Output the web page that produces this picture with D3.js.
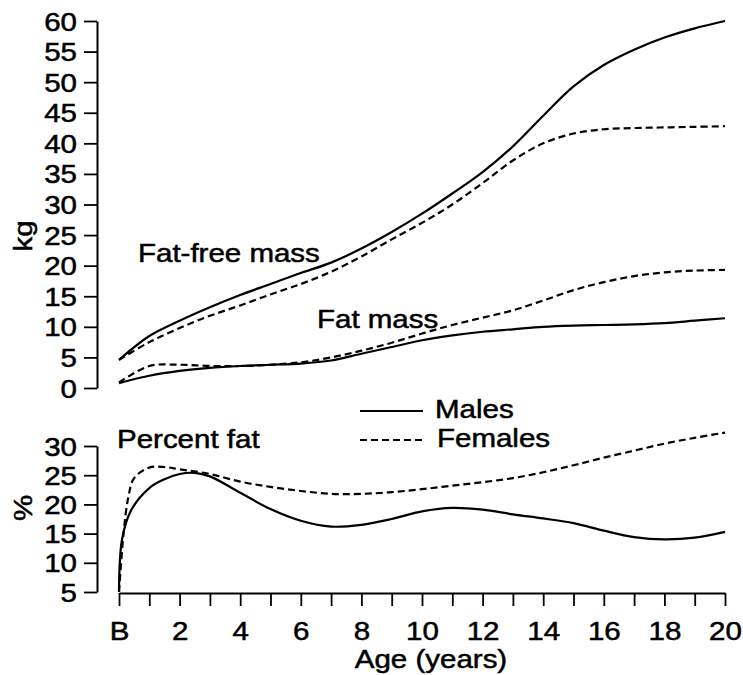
<!DOCTYPE html>
<html>
<head>
<meta charset="utf-8">
<script src="https://cdn.jsdelivr.net/npm/d3@7"></script>
<style>
  body { margin: 0; background: #fff; }
  svg { display: block; }
  text { font-family: "Liberation Sans", Arial, sans-serif; fill: #000; stroke: #000; stroke-width: 0.5px; }
</style>
</head>
<body>
<div id="chart"></div>
<script>
//ages for the mass panel (years, B = birth)
const ages = d3.range(0, 21);
//fat-free mass (kg)
const ffmMales   = [4.6, 8.5, 11, 13.2, 15.2, 17, 18.8, 20.5, 22.8, 25.5, 28.5, 31.8, 35.3, 39.5, 44.5, 49.3, 52.8, 55.3, 57.3, 58.8, 60];
const ffmFemales = [4.6, 7.5, 9.8, 11.8, 13.5, 15.3, 17, 19, 21.5, 24.3, 27, 30, 33.5, 37.2, 40, 41.6, 42.3, 42.5, 42.6, 42.7, 42.8];
//fat mass (kg)
const fmMales    = [0.8, 2, 2.8, 3.3, 3.6, 3.8, 4, 4.5, 5.6, 6.7, 7.8, 8.6, 9.2, 9.6, 10, 10.2, 10.3, 10.4, 10.6, 11, 11.4];
const fmFemales  = [0.9, 3.6, 3.8, 3.6, 3.6, 3.8, 4.2, 5, 6.1, 7.4, 8.9, 10.3, 11.5, 12.7, 14.3, 16, 17.3, 18.3, 18.9, 19.2, 19.3];
//percent fat (%), finer steps near birth
const pctAgesM   = [0, 0.1, 0.4, 1, 1.5, 2, 2.5, 3, 4, 5, 6, 7, 8, 9, 10, 11, 12, 13, 14, 15, 16, 17, 18, 19, 20];
const pctMales   = [5, 14, 19, 22.8, 24.3, 25.2, 25.4, 24.8, 22, 19.2, 17.2, 16.2, 16.5, 17.5, 18.8, 19.4, 19.1, 18.3, 17.6, 16.8, 15.5, 14.4, 14, 14.3, 15.3];
const pctAgesF   = [0, 0.15, 0.3, 0.5, 1, 1.5, 2, 3, 4, 5, 6, 7, 8, 9, 10, 11, 12, 13, 14, 15, 16, 17, 18, 19, 20];
const pctFemales = [5, 15, 21, 24.5, 26.3, 26.4, 26, 25.2, 23.9, 23, 22.3, 21.8, 21.8, 22.1, 22.6, 23.2, 23.8, 24.5, 25.5, 26.7, 28, 29.2, 30.4, 31.4, 32.3];
//tick values
const kgTicks  = d3.range(0, 61, 5);
const pctTicks = [5, 10, 15, 20, 25, 30];
const ageTicks = d3.range(0, 21, 1);

const W = 743, H = 675;
const SX = 1.18; //horizontal stretch of the scanned lettering

const svg = d3.select('#chart').append('svg')
  .attr('width', W).attr('height', H);

const x = d3.scaleLinear().domain([0, 20]).range([119, 725]);
const yKg = d3.scaleLinear().domain([0, 60]).range([388, 21]);
const yPct = d3.scaleLinear().domain([5, 30]).range([592, 446]);

//left axes
function leftAxis(scale, ticks) {
  const g = svg.append('g').attr('transform', 'translate(97,0)')
    .call(d3.axisLeft(scale).tickValues(ticks).tickSize(13).tickSizeOuter(0));
  g.select('.domain').attr('stroke', '#000').attr('stroke-width', 2);
  g.selectAll('.tick line').attr('stroke', '#000').attr('stroke-width', 1.8);
  g.selectAll('.tick text')
    .attr('font-size', 25)
    .attr('x', -20 / SX)
    .attr('dy', '0.36em')
    .attr('transform', `scale(${SX},1)`);
  return g;
}
leftAxis(yKg, kgTicks);
leftAxis(yPct, pctTicks);

//bottom axis
const gx = svg.append('g').attr('transform', 'translate(0,593)')
  .call(d3.axisBottom(x).tickValues(ageTicks).tickSize(13).tickPadding(16).tickSizeOuter(0)
    .tickFormat(d => d === 0 ? 'B' : (d % 2 === 0 ? d : '')));
gx.select('.domain').attr('stroke', '#000').attr('stroke-width', 2);
gx.selectAll('.tick line').attr('stroke', '#000').attr('stroke-width', 1.8);
gx.selectAll('.tick text').attr('font-size', 25).attr('transform', `scale(${SX},1)`);

//lines
const line = (xs, ys, yScale) => d3.line().curve(d3.curveCatmullRom.alpha(0.5))
  .x((d, i) => x(xs[i])).y(d => yScale(d))(ys);

function drawLine(xs, ys, yScale, dashed) {
  svg.append('path')
    .attr('d', line(xs, ys, yScale))
    .attr('fill', 'none')
    .attr('stroke', '#000')
    .attr('stroke-width', 2.2)
    .attr('stroke-dasharray', dashed ? '7,4' : null);
}
drawLine(ages, ffmMales, yKg, false);
drawLine(ages, ffmFemales, yKg, true);
drawLine(ages, fmMales, yKg, false);
drawLine(ages, fmFemales, yKg, true);
drawLine(pctAgesM, pctMales, yPct, false);
drawLine(pctAgesF, pctFemales, yPct, true);

//text helper with horizontal stretch
function label(str, tx, ty, anchor, rotate) {
  svg.append('text')
    .attr('transform', `translate(${tx},${ty})` + (rotate ? ` rotate(${rotate})` : '') + ` scale(${SX},1)`)
    .attr('text-anchor', anchor || 'start')
    .attr('font-size', 25)
    .text(str);
}
label('Fat-free mass', 138, 262);
label('Fat mass', 317, 328);
label('Percent fat', 117, 448);
label('Age (years)', 431, 668, 'middle');
label('kg', 32, 236, 'middle', -90);
label('%', 32, 508, 'middle', -90);

//legend
svg.append('line').attr('x1', 360).attr('x2', 423).attr('y1', 411).attr('y2', 411)
  .attr('stroke', '#000').attr('stroke-width', 2);
svg.append('line').attr('x1', 360).attr('x2', 423).attr('y1', 440).attr('y2', 440)
  .attr('stroke', '#000').attr('stroke-width', 2).attr('stroke-dasharray', '7,4');
label('Males', 435, 418);
label('Females', 437, 447);
</script>
</body>
</html>
